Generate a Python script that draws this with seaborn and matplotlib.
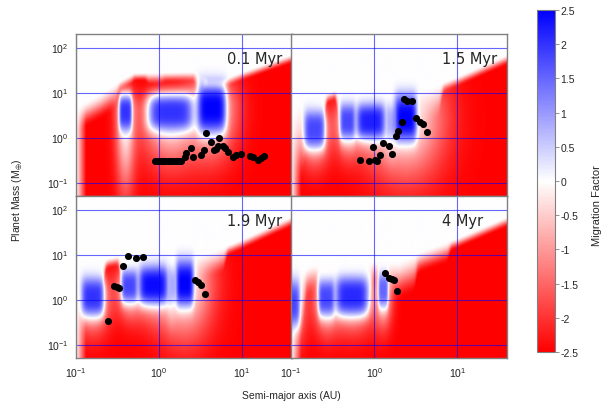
import numpy as np
import matplotlib
matplotlib.use("Agg")
import matplotlib.pyplot as plt
import seaborn as sns

# --- panel titles ---
panel_titles = ["0.1 Myr", "1.5 Myr", "1.9 Myr", "4 Myr"]

# --- upper edge of the red (inward migration) zone, log10 a vs log10 M ---
edge_a_01 = [-1.0, -0.7, -0.5, -0.3, 0.45, 0.6, 0.8, 1.0, 1.6]
edge_m_01 = [0.7, 1.0, 1.25, 1.45, 1.48, 1.33, 1.33, 1.47, 1.86]
edge_a_15 = [-1.0, -0.9, -0.6, -0.48, 0.4, 0.7, 1.0, 1.6]
edge_m_15 = [0.75, 0.82, 0.97, 1.06, 1.06, 1.15, 1.37, 1.86]
edge_a_19 = [-1.0, -0.77, -0.61, -0.49, 0.45, 0.69, 0.99, 1.6]
edge_m_19 = [0.67, 0.78, 0.93, 0.98, 1.0, 1.12, 1.34, 1.86]
edge_a_40 = [-1.0, -0.76, -0.6, 0.0, 0.3, 0.6, 1.0, 1.6]
edge_m_40 = [0.56, 0.78, 0.86, 0.89, 0.88, 1.12, 1.38, 1.86]

# --- vertical bands: start (log10 a) and how deep (dex) the red takes to saturate ---
band_a_01 = [-1.0, -0.5, -0.31, -0.15, 0.05, 0.45, 0.53]
band_d_01 = [0.6, 0.25, 0.2, 0.3, 0.25, 0.6, 0.22]
band_a_15 = [-1.0, -0.84, -0.6, -0.44, -0.22, -0.02, 0.16, 0.32, 0.8]
band_d_15 = [1.8, 1.3, 0.25, 1.6, 1.2, 1.2, 1.6, 0.8, 0.25]
band_a_19 = [-1.0, -0.67, -0.47, -0.27, -0.09, 0.09, 0.19, 0.45, 0.8]
band_d_19 = [1.5, 0.25, 1.3, 1.0, 1.2, 0.6, 1.2, 0.6, 0.25]
band_a_40 = [-1.0, -0.84, -0.68, -0.48, -0.04, 0.05, 0.16, 0.5, 0.9]
band_d_40 = [1.6, 0.7, 1.6, 1.4, 0.6, 1.5, 0.9, 0.5, 0.25]

# --- outward migration islands:
# (log a lo, log a hi, log M mid, log M half, peak, halo width, halo reach below) ---
islands_01 = [(-0.48, -0.33, 0.56, 0.37, 2.0, 1.5, 3.5),
              (-0.12, 0.40, 0.56, 0.37, 2.0, 1.3, 2.5),
              (0.47, 0.80, 0.65, 0.50, 2.5, 1.7, 1.5)]
islands_15 = [(-0.84, -0.60, 0.18, 0.39, 1.8, 1.5, 1.5),
              (-0.41, -0.24, 0.36, 0.36, 1.8, 1.5, 1.5),
              (-0.21, 0.12, 0.36, 0.36, 2.2, 1.4, 1.5),
              (0.15, 0.24, 0.36, 0.33, 0.8, 1.5, 1.5),
              (0.25, 0.50, 0.43, 0.47, 2.5, 3.5, 1.2)]
islands_19 = [(-0.93, -0.67, 0.06, 0.39, 2.0, 1.5, 1.5),
              (-0.45, -0.27, 0.30, 0.33, 1.8, 1.5, 1.5),
              (-0.24, 0.10, 0.32, 0.39, 2.4, 1.4, 1.5),
              (0.11, 0.19, 0.32, 0.35, 0.8, 1.5, 1.5),
              (0.21, 0.41, 0.36, 0.46, 2.5, 3.2, 1.2)]
islands_40 = [(-1.10, -0.90, -0.09, 0.46, 1.8, 1.5, 1.5),
              (-0.67, -0.49, 0.04, 0.37, 1.8, 1.5, 1.5),
              (-0.46, -0.08, 0.08, 0.40, 2.1, 1.4, 1.5),
              (0.05, 0.16, 0.21, 0.35, 1.5, 1.8, 1.5)]

# --- planets (AU, Earth masses) ---
planet_a_01 = [0.91, 0.98, 1.05, 1.12, 1.2, 1.28, 1.37, 1.46, 1.56, 1.66, 1.76, 1.86,
               2.05, 2.15, 2.47, 2.58, 3.25, 3.47, 3.73, 4.28, 4.57, 4.9, 5.15, 5.3,
               5.9, 6.3, 6.8, 7.8, 8.55, 9.85, 12.4, 13.6, 15.6, 17.1, 18.7]
planet_m_01 = [0.30, 0.30, 0.30, 0.30, 0.30, 0.30, 0.30, 0.30, 0.30, 0.30, 0.30, 0.30,
               0.36, 0.45, 0.575, 0.36, 0.40, 0.54, 1.26, 0.81, 0.53, 0.55, 0.66, 1.0,
               0.66, 0.57, 0.48, 0.36, 0.40, 0.43, 0.38, 0.36, 0.31, 0.35, 0.38]
planet_a_15 = [0.67, 0.86, 1.02, 1.09, 1.17, 0.955, 1.28, 1.5, 1.64, 1.82, 1.94, 2.13,
               2.29, 2.49, 2.82, 3.16, 3.54, 3.89, 4.27]
planet_m_15 = [0.32, 0.295, 0.32, 0.295, 0.40, 0.63, 0.76, 0.66, 0.43, 1.1, 1.37, 2.24,
               7.2, 6.6, 6.6, 2.7, 2.24, 2.0, 1.3]
planet_a_19 = [0.246, 0.29, 0.316, 0.334, 0.366, 0.428, 0.525, 0.637, 2.7, 2.96, 3.26, 3.57]
planet_m_19 = [0.338, 2.03, 1.93, 1.83, 5.46, 9.4, 8.35, 8.65, 2.75, 2.41, 2.14, 1.35]
planet_a_40 = [1.34, 1.51, 1.62, 1.72, 1.89]
planet_m_40 = [3.88, 3.05, 2.86, 2.67, 1.57]

cbar_ticks = [-2.5, -2, -1.5, -1, -0.5, 0, 0.5, 1, 1.5, 2, 2.5]

# axis range in decades
a_range = (-1.0, 1.6)
m_range = (-1.3, 2.3)

# grid the map is evaluated on (log10 a, log10 M), close to screen resolution
la = np.linspace(a_range[0], a_range[1], 433)
lm = np.linspace(m_range[0], m_range[1], 325)
LA, LM = np.meshgrid(la, lm)


def smoothstep(t):
    t = np.clip(t, 0, 1)
    return t * t * (3 - 2 * t)


def migration_map(edge_a, edge_m, band_a, band_d, islands):
    top = np.interp(LA, edge_a, edge_m)
    idx = np.clip(np.searchsorted(band_a, la, side="right") - 1, 0, len(band_d) - 1)
    depth = np.array(band_d, dtype=float)[idx]
    k = np.exp(-0.5 * (np.arange(-8, 9) / 3.0) ** 2)
    k /= k.sum()
    depth = np.convolve(np.pad(depth, 8, mode="edge"), k, mode="valid")
    red = smoothstep((top - LM) / depth[None, :])
    red *= np.clip((LA + 1.0) / 0.12, 0, 1)

    keep = np.ones_like(LA)
    blobs = []
    for lo, hi, mid, half, peak, halo, drop in islands:
        u = np.abs(LA - (lo + hi) / 2) / ((hi - lo) / 2)
        v = np.abs(LM - mid) / half
        hy = (0.5 + 0.5 * halo) * np.where(LM < mid, drop, 1.0)
        keep *= 1 - np.exp(-((u / halo) ** 2 + (v / hy) ** 2))
        blobs.append((0.5 ** (u ** 5 + v ** 3), peak))
    val = -2.5 * red * keep
    for g, peak in blobs:
        val = val * (1 - g) + peak * g
    return val


panels = [
    (edge_a_01, edge_m_01, band_a_01, band_d_01, islands_01, planet_a_01, planet_m_01),
    (edge_a_15, edge_m_15, band_a_15, band_d_15, islands_15, planet_a_15, planet_m_15),
    (edge_a_19, edge_m_19, band_a_19, band_d_19, islands_19, planet_a_19, planet_m_19),
    (edge_a_40, edge_m_40, band_a_40, band_d_40, islands_40, planet_a_40, planet_m_40),
]

sns.set_style("white")
plt.rcParams["font.family"] = ["Liberation Sans", "DejaVu Sans"]
plt.rcParams["mathtext.default"] = "regular"

fig = plt.figure(figsize=(6.05, 4.06), dpi=100)
W, H = 605.0, 406.0
corners = [(75.7, 35), (291.3, 35), (75.7, 197), (291.3, 197)]

img = None
for i, (ea, em, ba, bd, isl, pa, pm) in enumerate(panels):
    x0, y0 = corners[i]
    rect = [x0 / W, 1 - (y0 + 162) / H, 216 / W, 162 / H]

    # the map itself lives on a plain axes in decades, under the log axes
    ax_img = fig.add_axes(rect)
    field = migration_map(ea, em, ba, bd, isl)
    img = ax_img.imshow(field, origin="lower", aspect="auto", cmap="bwr_r",
                        vmin=-2.5, vmax=2.5, interpolation="antialiased",
                        extent=(a_range[0], a_range[1], m_range[0], m_range[1]))
    ax_img.set_xlim(*a_range)
    ax_img.set_ylim(*m_range)
    ax_img.axis("off")

    ax = fig.add_axes(rect)
    ax.patch.set_alpha(0)
    sns.scatterplot(x=pa, y=pm, ax=ax, color="black", s=26, linewidth=0,
                    legend=False, zorder=4)
    ax.set_xscale("log")
    ax.set_yscale("log")
    ax.set_xlim(10 ** a_range[0], 10 ** a_range[1])
    ax.set_ylim(10 ** m_range[0], 10 ** m_range[1])
    ax.set_xticks([0.1, 1, 10])
    ax.set_yticks([0.1, 1, 10, 100])
    ax.minorticks_off()
    ax.grid(True, which="major", color="blue", alpha=0.6, lw=0.8)
    ax.tick_params(length=0, labelsize=7.5, pad=5, colors="#222222",
                   labelbottom=(i >= 2), labelleft=(i % 2 == 0))
    for s in ax.spines.values():
        s.set_color("#808080")
        s.set_linewidth(1.0)
    ax.set_xlabel("")
    ax.set_ylabel("")
    ax.text(0.70, 0.82, panel_titles[i], transform=ax.transAxes, fontsize=10.5,
            family="DejaVu Sans", ha="left", va="baseline", zorder=5)

# colour bar
cax = fig.add_axes([537 / W, 1 - 353 / H, 18 / W, 342 / H])
cb = fig.colorbar(img, cax=cax, ticks=cbar_ticks)
cb.ax.set_yticklabels([f"{t:g}" for t in cbar_ticks])
cb.ax.tick_params(length=3, width=0.6, color="#808080", labelsize=7.5, pad=1)
cb.outline.set_edgecolor("#808080")
cb.outline.set_linewidth(0.8)

fig.text(597 / W, 1 - 206 / H, "Migration Factor", rotation=90, ha="center",
         va="center", fontsize=8)
fig.text(291 / W, 1 - 396 / H, "Semi-major axis (AU)", ha="center", va="center",
         fontsize=7.5)
fig.text(18 / W, 1 - 200 / H, r"Planet Mass (M$_{\oplus}$)", rotation=90, ha="center",
         va="center", fontsize=7.5)

fig.savefig("out.png", dpi=100)
